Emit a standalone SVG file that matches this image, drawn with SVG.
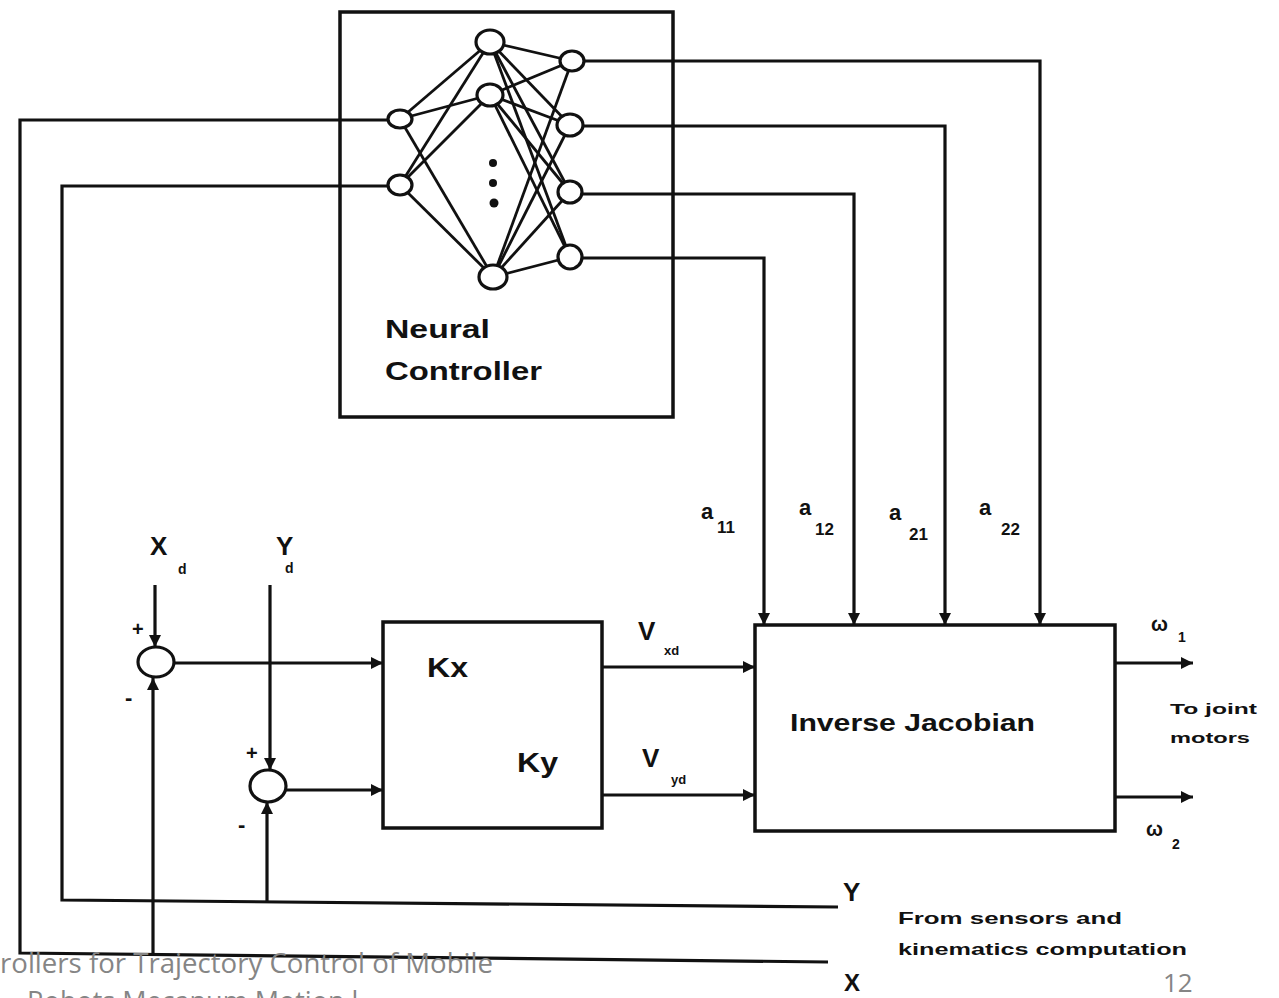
<svg xmlns="http://www.w3.org/2000/svg" width="1279" height="998" viewBox="0 0 1279 998">
<defs>
<marker id="arr" viewBox="0 0 10 10" refX="10" refY="5" markerWidth="16" markerHeight="12" markerUnits="userSpaceOnUse" orient="auto"><path d="M0,0 L10,5 L0,10 z" fill="#111"/></marker>
</defs>
<style>
.ln{stroke:#111;stroke-width:3.2;fill:none}
.nn{stroke:#111;stroke-width:2.8;fill:none}
.node{fill:#fff;stroke:#111;stroke-width:3.2}
.box{fill:#fff;stroke:#111;stroke-width:3.5}
.t{font-family:"Liberation Sans",Arial,sans-serif;font-weight:bold;fill:#111}
.ft{font-family:"Open Sans","Liberation Sans",sans-serif;fill:#858585}
</style>
<rect width="1279" height="998" fill="#fff"/>

<g id="neural-controller">
<rect class="box" x="340" y="12" width="333" height="405"/>
<g class="nn">
<line x1="400" y1="119" x2="490" y2="42"/>
<line x1="400" y1="119" x2="490" y2="95"/>
<line x1="400" y1="119" x2="493" y2="277"/>
<line x1="400" y1="185" x2="490" y2="42"/>
<line x1="400" y1="185" x2="490" y2="95"/>
<line x1="400" y1="185" x2="493" y2="277"/>
<line x1="490" y1="42" x2="572" y2="61"/>
<line x1="490" y1="42" x2="570" y2="125"/>
<line x1="490" y1="42" x2="570" y2="192"/>
<line x1="490" y1="42" x2="570" y2="257"/>
<line x1="490" y1="95" x2="572" y2="61"/>
<line x1="490" y1="95" x2="570" y2="125"/>
<line x1="490" y1="95" x2="570" y2="192"/>
<line x1="490" y1="95" x2="570" y2="257"/>
<line x1="493" y1="277" x2="572" y2="61"/>
<line x1="493" y1="277" x2="570" y2="125"/>
<line x1="493" y1="277" x2="570" y2="192"/>
<line x1="493" y1="277" x2="570" y2="257"/>
</g>
<ellipse class="node" cx="400" cy="119" rx="12" ry="9"/>
<ellipse class="node" cx="400" cy="185" rx="12" ry="10"/>
<ellipse class="node" cx="490" cy="42" rx="14" ry="12"/>
<ellipse class="node" cx="490" cy="95" rx="13" ry="11"/>
<ellipse class="node" cx="493" cy="277" rx="14" ry="12"/>
<ellipse class="node" cx="572" cy="61" rx="12" ry="10"/>
<ellipse class="node" cx="570" cy="125" rx="13" ry="11"/>
<ellipse class="node" cx="570" cy="192" rx="12" ry="11"/>
<ellipse class="node" cx="570" cy="257" rx="12" ry="12"/>
<circle cx="493" cy="163" r="4" fill="#111"/>
<circle cx="493" cy="183" r="4" fill="#111"/>
<circle cx="494" cy="203" r="4.5" fill="#111"/>
<text class="t" x="385" y="338" font-size="26" textLength="105" lengthAdjust="spacingAndGlyphs">Neural</text>
<text class="t" x="385" y="380" font-size="26" textLength="157" lengthAdjust="spacingAndGlyphs">Controller</text>
</g>

<g id="sum-x">
<ellipse class="node" cx="156" cy="662" rx="18" ry="15"/>
<text class="t" x="132" y="636" font-size="20">+</text>
<text class="t" x="125" y="705" font-size="22">-</text>
<text class="t" x="150" y="555" font-size="26">X</text>
<text class="t" x="178" y="574" font-size="14">d</text>
</g>

<g id="sum-y">
<ellipse class="node" cx="268" cy="786" rx="18" ry="16"/>
<text class="t" x="246" y="760" font-size="20">+</text>
<text class="t" x="238" y="832" font-size="22">-</text>
<text class="t" x="276" y="555" font-size="26">Y</text>
<text class="t" x="285" y="573" font-size="14">d</text>
</g>

<g id="gain-block">
<rect class="box" x="383" y="622" width="219" height="206"/>
<text class="t" x="427" y="677" font-size="28" textLength="41" lengthAdjust="spacingAndGlyphs">Kx</text>
<text class="t" x="517" y="772" font-size="28" textLength="41" lengthAdjust="spacingAndGlyphs">Ky</text>
</g>

<g id="inverse-jacobian">
<rect class="box" x="755" y="625" width="360" height="206"/>
<text class="t" x="790" y="731" font-size="24" textLength="245" lengthAdjust="spacingAndGlyphs">Inverse Jacobian</text>
</g>

<g id="connectors">
<path class="ln" d="M828,962 L20,953 L20,120 L388,120"/>
<path class="ln" d="M838,907 L62,900 L62,186 L388,186"/>
<path class="ln" d="M153,955 L153,678" marker-end="url(#arr)"/>
<path class="ln" d="M267,902 L267,802" marker-end="url(#arr)"/>
<path class="ln" d="M155,585 L155,647" marker-end="url(#arr)"/>
<path class="ln" d="M270,585 L270,770" marker-end="url(#arr)"/>
<path class="ln" d="M174,663 L383,663" marker-end="url(#arr)"/>
<path class="ln" d="M286,790 L383,790" marker-end="url(#arr)"/>
<path class="ln" d="M602,667 L755,667" marker-end="url(#arr)"/>
<path class="ln" d="M602,795 L755,795" marker-end="url(#arr)"/>
<path class="ln" d="M1115,663 L1193,663" marker-end="url(#arr)"/>
<path class="ln" d="M1115,797 L1193,797" marker-end="url(#arr)"/>
<path class="ln" d="M584,61 L1040,61 L1040,625" marker-end="url(#arr)"/>
<path class="ln" d="M583,126 L945,126 L945,625" marker-end="url(#arr)"/>
<path class="ln" d="M582,194 L854,194 L854,625" marker-end="url(#arr)"/>
<path class="ln" d="M582,258 L764,258 L764,625" marker-end="url(#arr)"/>
</g>

<g id="labels">
<text class="t" x="638" y="640" font-size="26">V</text>
<text class="t" x="664" y="655" font-size="13">xd</text>
<text class="t" x="642" y="767" font-size="26">V</text>
<text class="t" x="671" y="784" font-size="13">yd</text>
<text class="t" x="701" y="519" font-size="22">a</text>
<text class="t" x="717" y="533" font-size="17">11</text>
<text class="t" x="799" y="515" font-size="22">a</text>
<text class="t" x="815" y="535" font-size="17">12</text>
<text class="t" x="889" y="520" font-size="22">a</text>
<text class="t" x="909" y="540" font-size="17">21</text>
<text class="t" x="979" y="515" font-size="22">a</text>
<text class="t" x="1001" y="535" font-size="17">22</text>
<text class="t" x="1151" y="631" font-size="20">ω</text>
<text class="t" x="1178" y="642" font-size="14">1</text>
<text class="t" x="1146" y="836" font-size="20">ω</text>
<text class="t" x="1172" y="849" font-size="14">2</text>
<text class="t" x="1170" y="714" font-size="15" textLength="87" lengthAdjust="spacingAndGlyphs">To joint</text>
<text class="t" x="1170" y="743" font-size="15" textLength="80" lengthAdjust="spacingAndGlyphs">motors</text>
<text class="t" x="843" y="901" font-size="26">Y</text>
<text class="t" x="844" y="991" font-size="24">X</text>
<text class="t" x="898" y="924" font-size="17" textLength="224" lengthAdjust="spacingAndGlyphs">From sensors and</text>
<text class="t" x="898" y="955" font-size="17" textLength="289" lengthAdjust="spacingAndGlyphs">kinematics computation</text>
</g>

<g id="footer">
<text class="ft" x="0" y="973" font-size="28" textLength="493" lengthAdjust="spacingAndGlyphs">rollers for Trajectory Control of Mobile</text>
<text class="ft" x="27" y="1011" font-size="27">Robots Mecanum Motion l</text>
<text class="ft" x="1163" y="992" font-size="26">12</text>
</g>
</svg>
